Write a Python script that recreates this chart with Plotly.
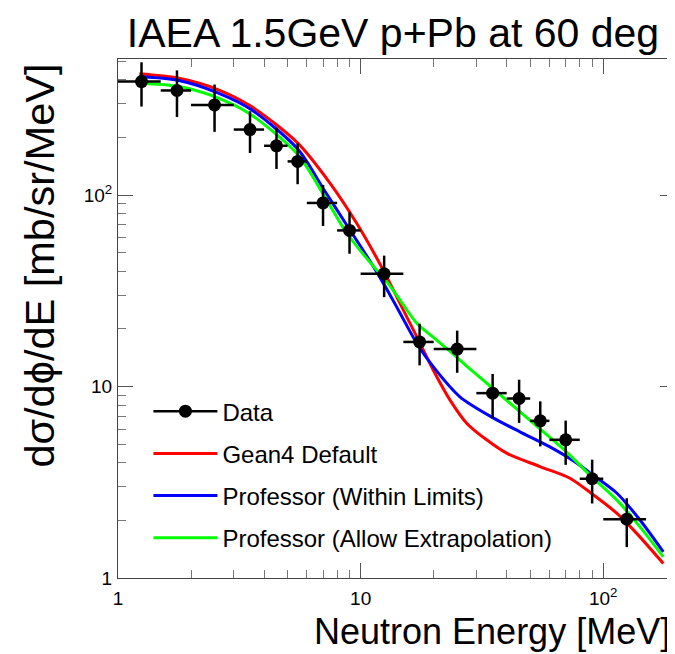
import plotly.graph_objects as go

# ---- data ----
bin_lo = [1, 1.5, 2, 3, 4, 5, 6, 8, 10, 15, 20, 30, 40, 50, 60, 80, 100]
bin_hi = [1.5, 2, 3, 4, 5, 6, 8, 10, 15, 20, 30, 40, 50, 60, 80, 100, 150]
data_e = [1.25, 1.75, 2.5, 3.5, 4.5, 5.5, 7, 9, 12.5, 17.5, 25, 35, 45, 55, 70, 90, 125]
data_y = [392, 352, 296, 220, 181, 150, 91, 65.4, 38.8, 17.1, 15.7, 9.24, 8.66, 6.62, 5.27, 3.30, 2.03]
data_err = [102, 96, 82, 54, 44, 36, 22, 16, 9.5, 4.2, 3.9, 2.4, 2.2, 1.75, 1.37, 0.85, 0.58]

red_e = [1.225, 1.763, 2.577, 3.536, 5.508, 7.46, 9.618, 12.38, 14.51, 17.54, 19.91, 23.33,
         27.34, 33.05, 39.96, 54.83, 72.89, 90.95, 113.6, 137.3, 176.8]
red_y = [431, 409, 356, 291, 187, 116, 71.5, 40.7, 27.3, 16.9, 12.2, 8.52,
         6.44, 5.27, 4.49, 3.82, 3.32, 2.72, 2.18, 1.71, 1.19]

blue_e = [1.225, 1.763, 2.577, 3.536, 5.508, 6.985, 8.748, 10.91, 12.38, 13.20, 14.51, 17.00,
          19.91, 25.65, 35.19, 45.36, 60.29, 77.68, 88.14, 113.6, 141.7, 176.8]
blue_y = [417, 398, 342, 280, 174, 109, 70.0, 45.4, 34.8, 30.2, 24.3, 16.9,
          12.7, 8.84, 6.86, 5.80, 4.84, 3.99, 3.54, 2.78, 2.01, 1.37]

green_e = [1.225, 1.763, 2.577, 3.536, 5.508, 6.985, 8.748, 11.63, 12.38, 14.51, 17.00,
           19.91, 23.33, 27.34, 35.19, 51.44, 68.42, 88.14, 113.6, 141.7, 176.8]
green_y = [384, 370, 322, 263, 163, 102, 63.6, 40.7, 37.4, 28.4, 21.5,
           18.1, 15.3, 12.8, 9.74, 6.44, 4.72, 3.45, 2.56, 1.85, 1.29]

x_tickvals = [1, 10, 100]
x_ticktext = ["1", "10", "10<sup>2</sup>"]
y_tickvals = [1, 10, 100]
y_ticktext = ["1", "10", "10<sup>2</sup>"]
minor_vals = [m * d for d in (1, 10, 100) for m in range(2, 10)]

FONT = "Liberation Sans, Arial, Helvetica, sans-serif"

fig = go.Figure()

# legend-only entry for the data (line + marker like the reference legend)
fig.add_trace(go.Scatter(x=[None], y=[None], mode="lines+markers", name="Data",
                         line=dict(color="black", width=2.5),
                         marker=dict(color="black", size=13),
                         legendgroup="d"))

fig.add_trace(go.Scatter(x=red_e, y=red_y, mode="lines", name="Gean4 Default",
                         line=dict(color="#ff0000", width=3, shape="spline", smoothing=0.8),
                         legendgroup="r"))
fig.add_trace(go.Scatter(x=blue_e, y=blue_y, mode="lines", name="Professor (Within Limits)",
                         line=dict(color="#0000ff", width=3, shape="spline", smoothing=0.8),
                         legendgroup="b"))
fig.add_trace(go.Scatter(x=green_e, y=green_y, mode="lines", name="Professor (Allow Extrapolation)",
                         line=dict(color="#00ff00", width=3, shape="spline", smoothing=0.8),
                         legendgroup="g"))

fig.add_trace(go.Scatter(
    x=data_e, y=data_y, mode="markers", showlegend=False, legendgroup="d",
    marker=dict(color="black", size=13),
    error_x=dict(type="data", symmetric=False,
                 array=[h - e for h, e in zip(bin_hi, data_e)],
                 arrayminus=[e - l for e, l in zip(data_e, bin_lo)],
                 color="black", thickness=2.5, width=0),
    error_y=dict(type="data", array=data_err, color="black", thickness=2.5, width=0),
))

axis_common = dict(
    type="log", showgrid=False, zeroline=False,
    showline=True, linecolor="#444", linewidth=1, mirror="allticks",
    ticks="inside", ticklen=15, tickcolor="#555", tickwidth=1,
    tickfont=dict(family=FONT, size=19, color="black"),
    minor=dict(tickvals=minor_vals, ticks="inside", ticklen=8, tickcolor="#777",
               tickwidth=1, showgrid=False),
)

fig.update_xaxes(range=[0, 2.2957], tickmode="array", tickvals=x_tickvals,
                 ticktext=x_ticktext, ticklabelstandoff=3, **axis_common)
fig.update_yaxes(range=[0, 2.711], tickmode="array", tickvals=y_tickvals,
                 ticktext=y_ticktext, ticklabelstandoff=1, **axis_common)

# the page body adds an 8px offset; margins compensate for it
fig.update_layout(
    width=675, height=654,
    margin=dict(l=110, r=8, t=51, b=84),
    paper_bgcolor="white", plot_bgcolor="white",
    font=dict(family=FONT, color="black"),
    title=dict(text="IAEA 1.5GeV p+Pb at 60 deg", x=385 / 675, xanchor="center",
               y=1 - 25 / 654, yanchor="middle",
               font=dict(family=FONT, size=41, color="black")),
    showlegend=True,
    legend=dict(x=0.0546, y=0.364, xanchor="left", yanchor="top",
                bgcolor="rgba(0,0,0,0)", borderwidth=0,
                font=dict(family=FONT, size=24, color="black"),
                traceorder="grouped", tracegroupgap=8, itemwidth=64),
    annotations=[
        dict(text="Neutron Energy [MeV]", xref="paper", yref="paper",
             x=0.9946, y=-0.103, xanchor="right", yanchor="middle",
             showarrow=False, font=dict(family=FONT, size=36, color="black")),
        dict(text="dσ/dϕ/dE [mb/sr/MeV]", xref="paper", yref="paper",
             x=-0.14, y=0.995, xanchor="center", yanchor="top", textangle=-90,
             showarrow=False, font=dict(family=FONT, size=41.5, color="black")),
    ],
)

fig.write_html("out.html")
